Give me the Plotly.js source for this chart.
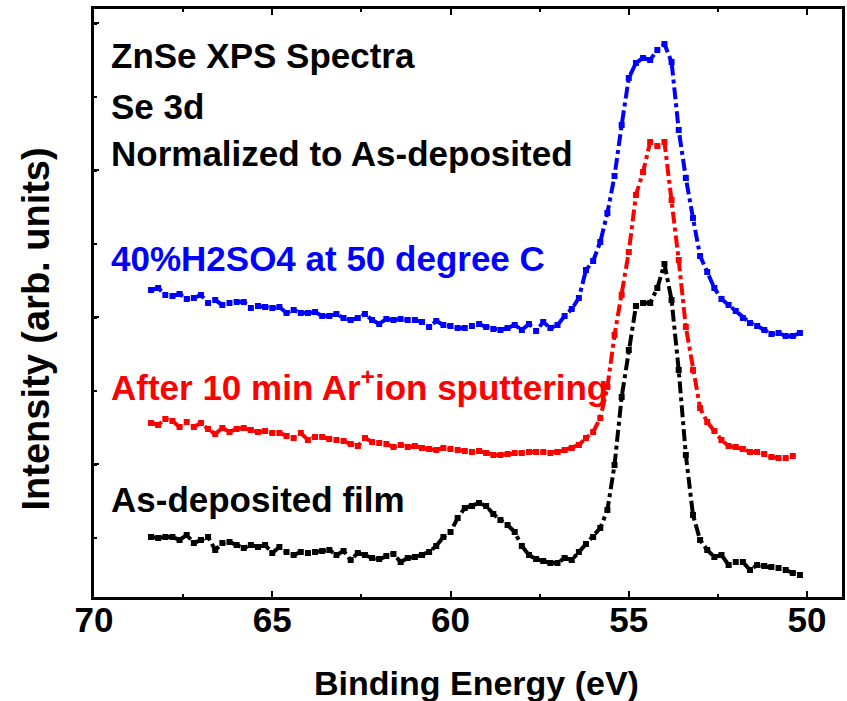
<!DOCTYPE html>
<html>
<head>
<meta charset="utf-8">
<script src="https://cdn.plot.ly/plotly-3.0.1.min.js"></script>
<style>html,body{margin:0;padding:0;background:#fff;}#chart{width:847px;height:701px;}</style>
</head>
<body>
<div id="chart"></div>
<script>
// Binding energy grid (eV), shared by the blue and black spectra
const energyFull = [68.4,68.2,68.0,67.8,67.6,67.4,67.2,67.0,66.8,66.6,66.4,66.2,66.0,65.8,65.6,65.4,65.2,65.0,64.8,64.6,64.4,64.2,64.0,63.8,63.6,63.4,63.2,63.0,62.8,62.6,62.4,62.2,62.0,61.8,61.6,61.4,61.2,61.0,60.8,60.6,60.4,60.2,60.0,59.8,59.6,59.4,59.2,59.0,58.8,58.6,58.4,58.2,58.0,57.8,57.6,57.4,57.2,57.0,56.8,56.6,56.4,56.2,56.0,55.8,55.6,55.4,55.2,55.0,54.8,54.6,54.4,54.2,54.0,53.8,53.6,53.4,53.2,53.0,52.8,52.6,52.4,52.2,52.0,51.8,51.6,51.4,51.2,51.0,50.8,50.6,50.4,50.2];
// Red spectrum stops at 50.4 eV
const energyRed = [68.4,68.2,68.0,67.8,67.6,67.4,67.2,67.0,66.8,66.6,66.4,66.2,66.0,65.8,65.6,65.4,65.2,65.0,64.8,64.6,64.4,64.2,64.0,63.8,63.6,63.4,63.2,63.0,62.8,62.6,62.4,62.2,62.0,61.8,61.6,61.4,61.2,61.0,60.8,60.6,60.4,60.2,60.0,59.8,59.6,59.4,59.2,59.0,58.8,58.6,58.4,58.2,58.0,57.8,57.6,57.4,57.2,57.0,56.8,56.6,56.4,56.2,56.0,55.8,55.6,55.4,55.2,55.0,54.8,54.6,54.4,54.2,54.0,53.8,53.6,53.4,53.2,53.0,52.8,52.6,52.4,52.2,52.0,51.8,51.6,51.4,51.2,51.0,50.8,50.6,50.4];

// Intensities (arb. units, offset stacked)
const h2so4 = [307,309,302,301,303,298,299,302,294,297,292,294,295,295,289,291,290,289,290,284,287,284,284,285,281,281,283,279,277,279,283,277,273,278,277,278,277,277,275,270,276,272,271,269,269,271,273,270,268,267,269,272,267,273,266,275,269,272,281,288,299,327,336,355,384,421,472,519,534,539,537,547,553,535,467,419,379,341,325,309,298,292,286,279,274,271,267,263,264,261,261,264];
const sputtered = [174,172,178,176,170,175,170,174,168,163,169,165,168,169,167,165,166,164,164,161,159,164,157,160,160,158,157,156,153,151,159,155,154,153,150,152,150,151,149,148,147,149,148,147,146,145,146,144,142,142,143,144,144,145,145,145,144,145,147,149,152,159,165,179,210,262,302,345,402,425,455,451,455,397,337,270,227,189,175,166,157,151,150,148,145,145,143,140,139,139,141];
const asDeposited = [60,59,60,60,57,62,54,57,60,47,54,55,52,49,52,50,52,44,50,45,42,45,44,45,46,47,42,46,37,44,42,39,38,41,43,35,39,40,42,45,51,60,65,79,89,91,94,91,83,77,72,65,51,42,38,36,34,34,39,37,45,53,60,69,87,132,200,247,291,294,294,309,333,297,227,142,82,57,47,40,42,32,35,35,27,32,31,30,29,27,24,22];

const labels = ["ZnSe XPS Spectra","Se 3d","Normalized to As-deposited","40%H2SO4 at 50 degree C","After 10 min Ar<sup>+</sup>ion sputtering","As-deposited film"];
const xTitle = "Binding Energy (eV)";
const yTitle = "Intensity (arb. units)";

const FONT = "Liberation Sans, Arial, Helvetica, sans-serif";

function trace(x, y, color) {
  return {
    x: x, y: y, type: "scatter", mode: "lines+markers",
    line: {color: color, width: 4, dash: "dashdot"},
    marker: {symbol: "square", size: 6, color: color},
    showlegend: false, hoverinfo: "skip"
  };
}

const data = [
  trace(energyFull, h2so4, "#0000ff"),
  trace(energyRed, sputtered, "#ff0000"),
  trace(energyFull, asDeposited, "#000000")
];

function ann(text, y, color) {
  return {text: text, xref: "paper", yref: "y", x: 0.02, y: y, xanchor: "left", yanchor: "middle",
    showarrow: false, font: {family: FONT, size: 35, color: color, weight: "bold"}};
}

const layout = {
  width: 847, height: 701,
  margin: {l: 94, r: 5, t: 9, b: 104},
  paper_bgcolor: "#fff", plot_bgcolor: "#fff",
  font: {family: FONT, color: "#000"},
  xaxis: {
    range: [70, 49.02], dtick: 5, tick0: 50,
    ticks: "inside", ticklen: 6, tickwidth: 2, tickcolor: "#000",
    minor: {dtick: 2.5, ticks: "inside", ticklen: 3, tickwidth: 2, tickcolor: "#000"},
    showline: true, linewidth: 3, linecolor: "#000", mirror: "ticks",
    showgrid: false, zeroline: false,
    tickfont: {family: FONT, size: 35, color: "#000", weight: "bold"},
    ticklabelstandoff: -10
  },
  yaxis: {
    range: [0, 588], tick0: 133, dtick: 147,
    ticks: "inside", ticklen: 5, tickwidth: 2, tickcolor: "#000",
    minor: {tick0: 59, dtick: 73.5, ticks: "inside", ticklen: 3, tickwidth: 2, tickcolor: "#000"},
    showticklabels: false,
    showline: true, linewidth: 3, linecolor: "#000", mirror: true,
    showgrid: false, zeroline: false
  },
  annotations: [
    ann(labels[0], 542, "#000"),
    ann(labels[1], 491, "#000"),
    ann(labels[2], 444, "#000"),
    ann(labels[3], 339, "#0000ff"),
    ann(labels[4], 212, "#ff0000"),
    ann(labels[5], 98, "#000"),
    {text: xTitle, xref: "paper", yref: "paper", x: 0.511, y: -0.146, xanchor: "center", yanchor: "middle",
     showarrow: false, font: {family: FONT, size: 34, color: "#000", weight: "bold"}},
    {text: yTitle, xref: "paper", yref: "paper", x: -0.0775, y: 0.455, xanchor: "center", yanchor: "middle",
     textangle: -90, showarrow: false, font: {family: FONT, size: 38, color: "#000", weight: "bold"}}
  ]
};

Plotly.newPlot("chart", data, layout, {staticPlot: true, displayModeBar: false});
</script>
</body>
</html>
